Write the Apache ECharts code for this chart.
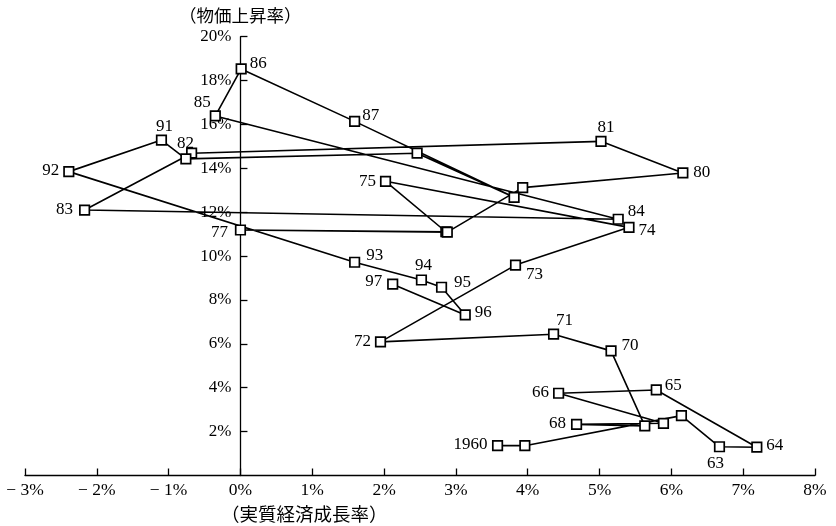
<!DOCTYPE html>
<html>
<head>
<meta charset="utf-8">
<script src="https://cdn.jsdelivr.net/npm/echarts@6/dist/echarts.min.js"></script>
<style>
html,body{margin:0;padding:0;background:#fff;}
#c{width:836px;height:526px;}
</style>
</head>
<body>
<div id="c"></div>
<script>
// ---- data ----
var years = ['1960','61','62','63','64','65','66','67','68','69',
             '70','71','72','73','74','75','76','77','78','79',
             '80','81','82','83','84','85','86','87','88','89',
             '90','91','92','93','94','95','96','97'];
// real economic growth rate (%)
var growth = [3.58,3.96,6.14,6.67,7.19,5.79,4.43,5.89,4.68,5.63,
              5.16,4.36,1.95,3.83,5.41,2.02,2.86,0.00,2.88,3.93,
              6.16,5.02,-0.68,-2.17,5.26,-0.35,0.01,1.59,3.81,2.46,
              -0.76,-1.10,-2.39,1.59,2.52,2.80,3.13,2.12];
// price increase rate (%)
var inflation = [1.36,1.36,2.73,1.31,1.29,3.90,3.75,2.38,2.33,2.26,
                 5.68,6.44,6.09,9.59,11.31,13.41,11.11,11.19,11.09,13.12,
                 13.79,15.23,14.69,12.10,11.68,16.39,18.53,16.14,12.68,14.69,
                 14.43,15.29,13.85,9.72,8.91,8.58,7.32,8.72];
var xTicks = [-3,-2,-1,0,1,2,3,4,5,6,7,8];
var yTicks = [0,2,4,6,8,10,12,14,16,18,20];
var yTitle = '（物価上昇率）';
var xTitle = '（実質経済成長率）';

// ---- label placement (style: offset of year label from its marker, px) ----
var labelOffset = {
  '1960':[-27,-1],'63':[-4,17],'64':[18,-2],'65':[17,-4],'66':[-18,-1],'68':[-19,-1],
  '70':[19,-5],'71':[11,-14],'72':[-18,0],'73':[19,9],'74':[18,3],'75':[-18,0],
  '77':[-21,3],'80':[19,0],'81':[5,-14],'82':[-6,-10],'83':[-20,0],'84':[18,-8],
  '85':[-13,-13],'86':[17,-5],'87':[16,-6],'91':[3,-14],'92':[-18,-1],'93':[20,-7],
  '94':[2,-14],'95':[21,-5],'96':[18,-2],'97':[-19,-3]
};

var serif = '"Liberation Serif","DejaVu Serif",serif';
var cjk = '"Noto Sans CJK JP","Noto Sans CJK SC",sans-serif';
var GRID_LEFT = 25;

var pts = years.map(function(y,i){
  var d = {value:[growth[i], inflation[i]], name:y};
  var off = labelOffset[y];
  if (off) {
    d.label = {show:true, position:'inside', offset:off, formatter:y};
  } else {
    d.label = {show:false};
  }
  return d;
});

function fmtX(v){
  if (v < 0) return '\u2212 ' + Math.abs(v) + '%';
  return v + '%';
}

var chart = echarts.init(document.getElementById('c'), null, {renderer:'canvas'});
chart.setOption({
  animation:false,
  backgroundColor:'#fff',
  grid:{left:GRID_LEFT, right:21, top:36.7, bottom:50.5, containLabel:false, outerBoundsMode:'none'},
  xAxis:{
    type:'value', min:xTicks[0], max:xTicks[xTicks.length-1], interval:1,
    axisLine:{show:true, onZero:true, lineStyle:{color:'#000', width:1.3}},
    axisTick:{show:true, inside:true, length:7, lineStyle:{color:'#000', width:1.3}},
    splitLine:{show:false},
    axisLabel:{color:'#000', fontFamily:serif, fontSize:17.5, margin:6, formatter:fmtX}
  },
  yAxis:{
    type:'value', min:yTicks[0], max:yTicks[yTicks.length-1], interval:2,
    axisLine:{show:true, onZero:false, lineStyle:{color:'#000', width:1.3}},
    axisTick:{show:true, inside:true, length:7, lineStyle:{color:'#000', width:1.3}},
    splitLine:{show:false},
    axisLabel:{color:'#000', fontFamily:serif, fontSize:17, margin:9, showMinLabel:false,
      formatter:function(v){return v===0?'':v+'%';}}
  },
  series:[{
    type:'line',
    data:pts,
    symbol:'rect',
    symbolSize:9.5,
    showAllSymbol:true,
    itemStyle:{color:'#fff', borderColor:'#000', borderWidth:1.7},
    lineStyle:{color:'#000', width:1.6},
    label:{color:'#000', fontFamily:serif, fontSize:17, align:'center', verticalAlign:'middle'},
    emphasis:{disabled:true}
  }],
  graphic:[
    {type:'text', left:179, top:6.5, style:{text:yTitle, font:'17.5px '+cjk, fill:'#000'}},
    {type:'text', left:221, top:505, style:{text:xTitle, font:'18.5px '+cjk, fill:'#000'}}
  ]
});
// move the y axis (line, ticks, labels) onto x = 0
var zeroPx = chart.convertToPixel({xAxisIndex:0}, 0);
chart.setOption({yAxis:{offset:-(zeroPx - GRID_LEFT)}});
</script>
</body>
</html>
